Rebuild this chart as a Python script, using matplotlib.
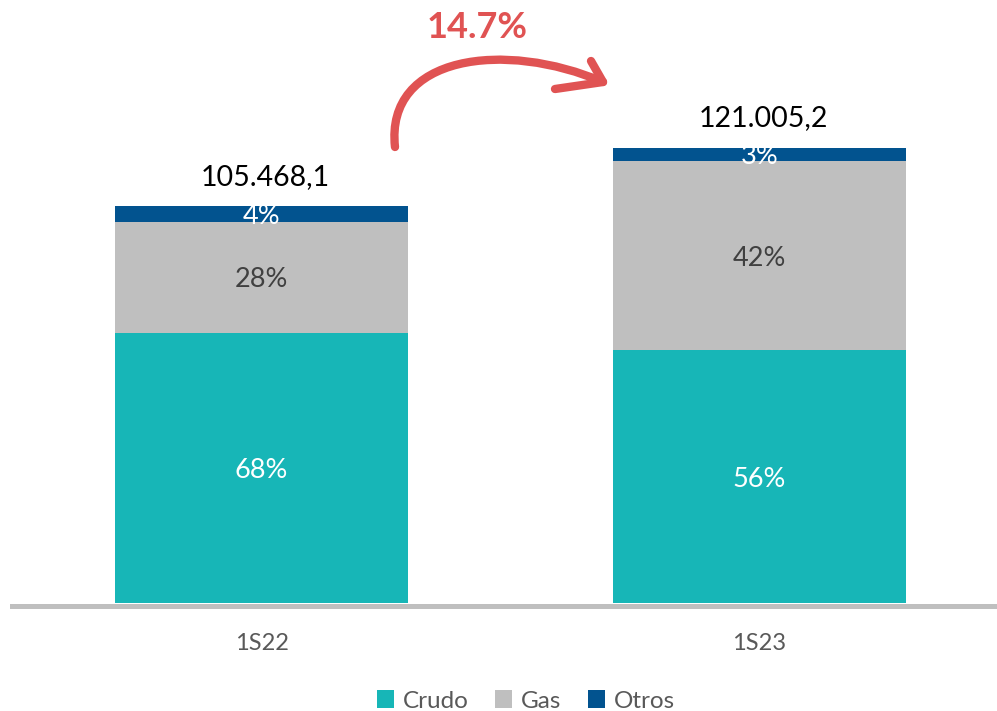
import matplotlib
matplotlib.use("Agg")
import matplotlib.pyplot as plt
import numpy as np
from matplotlib.path import Path
from matplotlib.patches import PathPatch

# -------------------------------
# Data
# -------------------------------
periods = ["1S22", "1S23"]
totals = [105468.1, 121005.2]
total_labels = ["105.468,1", "121.005,2"]
pct_crudo = [68, 56]
pct_gas = [28, 42]
pct_otros = [4, 3]
growth_label = "14.7%"

# Colors
c_crudo = "#17B6B7"
c_gas = "#BFBFBF"
c_otros = "#02538F"
c_red = "#E05353"
c_axis = "#BFBFBF"

plt.rcParams["font.family"] = ["Lato", "DejaVu Sans"]

fig = plt.figure(figsize=(9.97, 7.11), dpi=100)
ax = fig.add_axes([12 / 997, 108 / 711, 985 / 997, 603 / 711])

x = np.arange(len(periods))
width = 0.588
pct_sum = np.array(pct_crudo) + np.array(pct_gas) + np.array(pct_otros)
tot = np.array(totals)
crudo = tot * np.array(pct_crudo) / pct_sum
gas = tot * np.array(pct_gas) / pct_sum
otros = tot * np.array(pct_otros) / pct_sum

ax.bar(x, crudo, width, color=c_crudo, label="Crudo", zorder=3)
ax.bar(x, gas, width, bottom=crudo, color=c_gas, label="Gas", zorder=3)
ax.bar(x, otros, width, bottom=crudo + gas, color=c_otros, label="Otros", zorder=3)

# Segment labels
for i in range(len(periods)):
    ax.text(x[i], crudo[i] / 2, f"{pct_crudo[i]}%", ha="center", va="center_baseline",
            color="white", fontsize=19.5, zorder=4)
    ax.text(x[i], crudo[i] + gas[i] / 2, f"{pct_gas[i]}%", ha="center", va="center_baseline",
            color="#404040", fontsize=19.5, zorder=4)
    ax.text(x[i], crudo[i] + gas[i] + otros[i] / 2, f"{pct_otros[i]}%", ha="center",
            va="center_baseline", color="white", fontsize=19.5, zorder=4)
    ax.text(x[i] + 0.008, tot[i] + 8400, total_labels[i],
            ha="center", va="center_baseline", color="black", fontsize=20.5, zorder=4)

ax.set_xlim(-0.501, 1.477)
ax.set_ylim(0, 603 / 397 * totals[0])
ax.set_yticks([])
for s in ["top", "left", "right"]:
    ax.spines[s].set_visible(False)
ax.spines["bottom"].set_color(c_axis)
ax.spines["bottom"].set_linewidth(3.6)
ax.spines["bottom"].set_position(("outward", 1.8))
ax.set_xticks(x)
ax.set_xticklabels(periods, fontsize=17, color="#595959")
ax.tick_params(axis="x", length=0, pad=20)

# Legend
leg = fig.legend(loc="center", bbox_to_anchor=(526 / 997, 1 - 701 / 711), ncol=3, frameon=False,
                 fontsize=17.5, handlelength=0.7, handleheight=0.7, handletextpad=0.35,
                 columnspacing=1.1, labelcolor="#595959")

# Curved growth arrow (overlay in pixel coordinates)
ov = fig.add_axes([0, 0, 1, 1])
ov.set_xlim(0, 997)
ov.set_ylim(711, 0)
ov.axis("off")
curve = Path([(395, 147), (385, 55), (505, 40), (603, 82)],
             [Path.MOVETO, Path.CURVE4, Path.CURVE4, Path.CURVE4])
ov.add_patch(PathPatch(curve, facecolor="none", edgecolor=c_red, lw=6, capstyle="round"))
ov.plot([591, 603, 555], [61, 82, 89], color=c_red, lw=6, solid_capstyle="round",
        solid_joinstyle="round")
ov.text(477, 28, growth_label, ha="center", va="center", color=c_red, fontsize=26,
        fontweight="bold")

fig.savefig("out.png", dpi=100)
